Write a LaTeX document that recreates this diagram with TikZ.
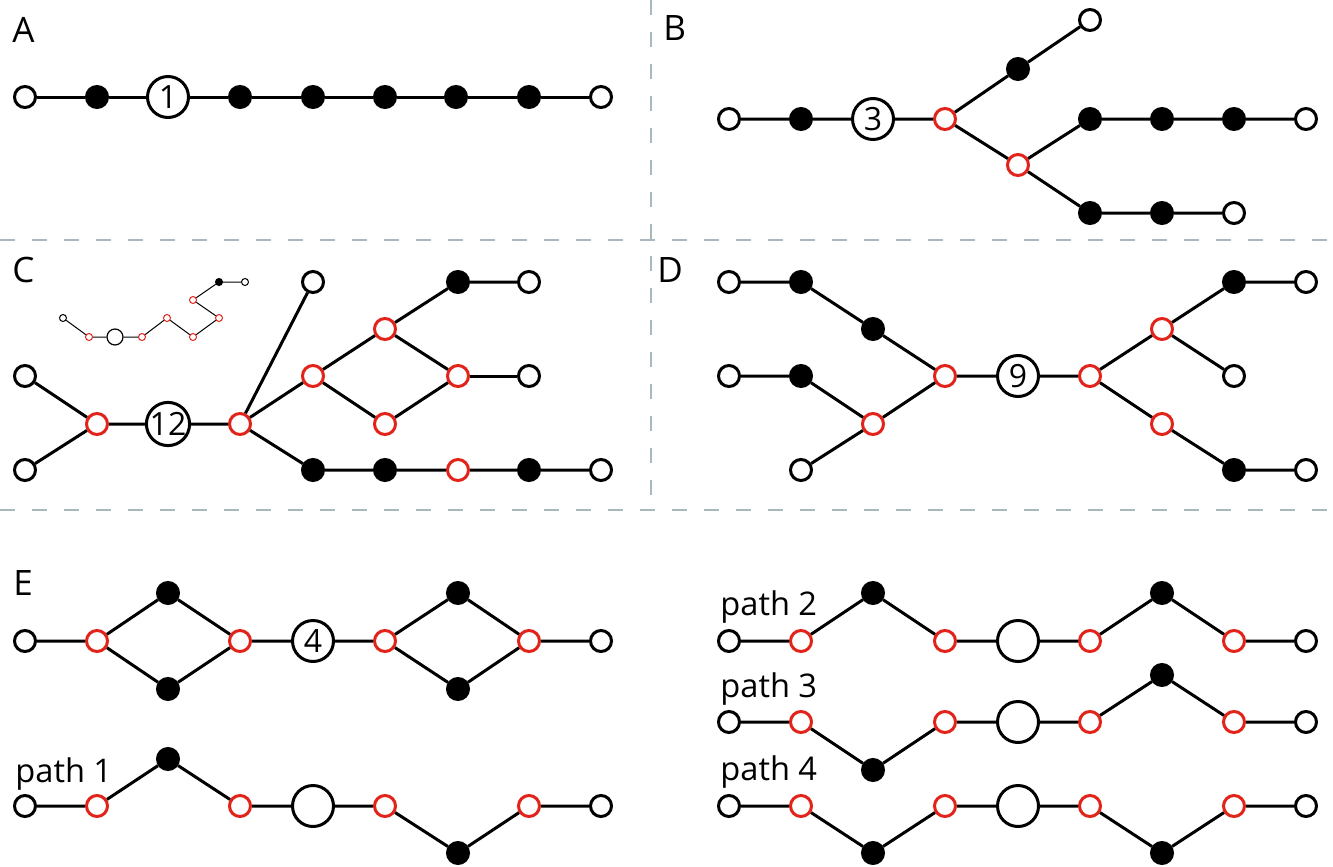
\documentclass[tikz,border=0pt]{standalone}
\usepackage{fontspec}
\setmainfont{Open Sans}
\definecolor{nodered}{HTML}{E2231A}
\definecolor{sepgray}{HTML}{A9B7BF}
\begin{document}
\begin{tikzpicture}[x=0.5pt,y=-0.5pt]
\tikzset{
  wn/.style={circle,draw,line width=1.5pt,minimum size=10.5pt,inner sep=0pt,fill=white},
  rn/.style={wn,draw=nodered},
  fn/.style={wn,fill=black},
  bn/.style={circle,draw,line width=1.5pt,minimum size=20.5pt,inner sep=0pt,fill=white,font=\fontsize{16}{16}\selectfont},
  edge/.style={line width=1.5pt},
  lab/.style={anchor=base west,inner sep=0pt,font=\fontsize{17.5}{17.5}\selectfont},
  plab/.style={anchor=base west,inner sep=0pt,font=\fontsize{16.3}{16.3}\selectfont},
  sep/.style={sepgray,line width=0.8pt,dash pattern=on 7.5pt off 8.5pt},
  % tiny inset graph
  swn/.style={circle,draw,line width=0.5pt,minimum size=3.5pt,inner sep=0pt,fill=white},
  srn/.style={swn,draw=nodered},
  sfn/.style={swn,fill=black},
  sbn/.style={circle,draw,line width=0.6pt,minimum size=8pt,inner sep=0pt,fill=white},
  sedge/.style={line width=0.5pt},
}
\useasboundingbox (0,0) rectangle (1333,867);

% panel separators
\draw[sep] (0,240) -- (1333,240);
\draw[sep] (0,510) -- (1333,510);
\draw[sep] (651,0) -- (651,510);

% ---------- A ----------
\node[lab] at (12,42) {A};
\node[wn] (a1) at (25,97) {};
\node[fn] (a2) at (97,97) {};
\node[bn] (a3) at (168,97) {1};
\node[fn] (a4) at (240,97) {};
\node[fn] (a5) at (313,97) {};
\node[fn] (a6) at (385,97) {};
\node[fn] (a7) at (456,97) {};
\node[fn] (a8) at (529,97) {};
\node[wn] (a9) at (601,97) {};
\draw[edge] (a1) -- (a2) -- (a3) -- (a4) -- (a5) -- (a6) -- (a7) -- (a8) -- (a9);

% ---------- B ----------
\node[lab] at (663,40) {B};
\node[wn] (b1) at (729,119) {};
\node[fn] (b2) at (801,119) {};
\node[bn] (b3) at (873,119) {3};
\node[rn] (b4) at (945,119) {};
\node[fn] (b5) at (1018,69) {};
\node[wn] (b6) at (1090,20) {};
\node[rn] (b7) at (1018,165) {};
\node[fn] (b8) at (1090,119) {};
\node[fn] (b9) at (1162,119) {};
\node[fn] (b10) at (1234,119) {};
\node[wn] (b11) at (1306,119) {};
\node[fn] (b12) at (1090,213) {};
\node[fn] (b13) at (1162,213) {};
\node[wn] (b14) at (1234,213) {};
\draw[edge] (b1) -- (b2) -- (b3) -- (b4) -- (b5) -- (b6);
\draw[edge] (b4) -- (b7) -- (b8) -- (b9) -- (b10) -- (b11);
\draw[edge] (b7) -- (b12) -- (b13) -- (b14);

% ---------- C ----------
\node[lab] at (12,282) {C};
\node[wn] (c1) at (25,376) {};
\node[wn] (c2) at (25,470) {};
\node[rn] (c3) at (97,424) {};
\node[bn] (c4) at (168,424) {12};
\node[rn] (c5) at (240,424) {};
\node[wn] (c6) at (313,282) {};
\node[rn] (c7) at (313,376) {};
\node[rn] (c8) at (385,329) {};
\node[rn] (c9) at (385,424) {};
\node[fn] (c10) at (458,282) {};
\node[wn] (c11) at (529,282) {};
\node[rn] (c12) at (458,376) {};
\node[wn] (c13) at (529,376) {};
\node[fn] (c14) at (313,470) {};
\node[fn] (c15) at (385,470) {};
\node[rn] (c16) at (458,470) {};
\node[fn] (c17) at (529,470) {};
\node[wn] (c18) at (601,470) {};
\draw[edge] (c1) -- (c3) -- (c2);
\draw[edge] (c3) -- (c4) -- (c5) -- (c6);
\draw[edge] (c5) -- (c7) -- (c8) -- (c10) -- (c11);
\draw[edge] (c7) -- (c9) -- (c12) -- (c8);
\draw[edge] (c12) -- (c13);
\draw[edge] (c5) -- (c14) -- (c15) -- (c16) -- (c17) -- (c18);

% inset: the same chain drawn as a folded backbone
\node[swn] (s1) at (63,318) {};
\node[srn] (s2) at (89,337) {};
\node[sbn] (s3) at (115,337) {};
\node[srn] (s4) at (142,337) {};
\node[srn] (s5) at (167,318) {};
\node[srn] (s6) at (193,337) {};
\node[srn] (s7) at (219,318) {};
\node[srn] (s8) at (193,300) {};
\node[sfn] (s9) at (219,282) {};
\node[swn] (s10) at (245,282) {};
\draw[sedge] (s1) -- (s2) -- (s3) -- (s4) -- (s5) -- (s6) -- (s7) -- (s8) -- (s9) -- (s10);

% ---------- D ----------
\node[lab] at (657,282) {D};
\node[wn] (d1) at (729,282) {};
\node[fn] (d2) at (801,282) {};
\node[fn] (d3) at (873,329) {};
\node[rn] (d4) at (945,376) {};
\node[bn] (d5) at (1018,376) {9};
\node[rn] (d6) at (1090,376) {};
\node[rn] (d7) at (1162,329) {};
\node[fn] (d8) at (1234,282) {};
\node[wn] (d9) at (1306,282) {};
\node[wn] (d10) at (1234,376) {};
\node[rn] (d11) at (1162,424) {};
\node[fn] (d12) at (1234,470) {};
\node[wn] (d13) at (1306,470) {};
\node[wn] (d14) at (729,376) {};
\node[fn] (d15) at (801,376) {};
\node[rn] (d16) at (873,424) {};
\node[wn] (d17) at (801,470) {};
\draw[edge] (d1) -- (d2) -- (d3) -- (d4) -- (d5) -- (d6) -- (d7) -- (d8) -- (d9);
\draw[edge] (d7) -- (d10);
\draw[edge] (d6) -- (d11) -- (d12) -- (d13);
\draw[edge] (d14) -- (d15) -- (d16) -- (d4);
\draw[edge] (d17) -- (d16);

% ---------- E ----------
\node[lab] at (13,595) {E};
\node[wn] (e1) at (25,641) {};
\node[rn] (e2) at (97,641) {};
\node[fn] (e3) at (168,593) {};
\node[fn] (e4) at (168,689) {};
\node[rn] (e5) at (240,641) {};
\node[bn] (e6) at (313,641) {4};
\node[rn] (e7) at (385,641) {};
\node[fn] (e8) at (458,593) {};
\node[fn] (e9) at (458,689) {};
\node[rn] (e10) at (529,641) {};
\node[wn] (e11) at (601,641) {};
\draw[edge] (e1) -- (e2) -- (e3) -- (e5) -- (e6) -- (e7) -- (e8) -- (e10) -- (e11);
\draw[edge] (e2) -- (e4) -- (e5);
\draw[edge] (e7) -- (e9) -- (e10);

% path 1
\node[plab] at (15,782) {path 1};
\node[wn] (p1a) at (25,806) {};
\node[rn] (p1b) at (97,806) {};
\node[fn] (p1c) at (168,759) {};
\node[rn] (p1d) at (240,806) {};
\node[bn] (p1e) at (313,806) {};
\node[rn] (p1f) at (385,806) {};
\node[fn] (p1g) at (458,853) {};
\node[rn] (p1h) at (529,806) {};
\node[wn] (p1i) at (601,806) {};
\draw[edge] (p1a) -- (p1b) -- (p1c) -- (p1d) -- (p1e) -- (p1f) -- (p1g) -- (p1h) -- (p1i);

% path 2
\node[plab] at (720,615) {path 2};
\node[wn] (p2a) at (729,641) {};
\node[rn] (p2b) at (801,641) {};
\node[fn] (p2c) at (873,593) {};
\node[rn] (p2d) at (945,641) {};
\node[bn] (p2e) at (1018,641) {};
\node[rn] (p2f) at (1090,641) {};
\node[fn] (p2g) at (1162,593) {};
\node[rn] (p2h) at (1234,641) {};
\node[wn] (p2i) at (1306,641) {};
\draw[edge] (p2a) -- (p2b) -- (p2c) -- (p2d) -- (p2e) -- (p2f) -- (p2g) -- (p2h) -- (p2i);

% path 3
\node[plab] at (720,697) {path 3};
\node[wn] (p3a) at (729,722) {};
\node[rn] (p3b) at (801,722) {};
\node[fn] (p3c) at (873,770) {};
\node[rn] (p3d) at (945,722) {};
\node[bn] (p3e) at (1018,722) {};
\node[rn] (p3f) at (1090,722) {};
\node[fn] (p3g) at (1162,675) {};
\node[rn] (p3h) at (1234,722) {};
\node[wn] (p3i) at (1306,722) {};
\draw[edge] (p3a) -- (p3b) -- (p3c) -- (p3d) -- (p3e) -- (p3f) -- (p3g) -- (p3h) -- (p3i);

% path 4
\node[plab] at (720,780) {path 4};
\node[wn] (p4a) at (729,806) {};
\node[rn] (p4b) at (801,806) {};
\node[fn] (p4c) at (873,853) {};
\node[rn] (p4d) at (945,806) {};
\node[bn] (p4e) at (1018,806) {};
\node[rn] (p4f) at (1090,806) {};
\node[fn] (p4g) at (1162,853) {};
\node[rn] (p4h) at (1234,806) {};
\node[wn] (p4i) at (1306,806) {};
\draw[edge] (p4a) -- (p4b) -- (p4c) -- (p4d) -- (p4e) -- (p4f) -- (p4g) -- (p4h) -- (p4i);
\end{tikzpicture}
\end{document}
